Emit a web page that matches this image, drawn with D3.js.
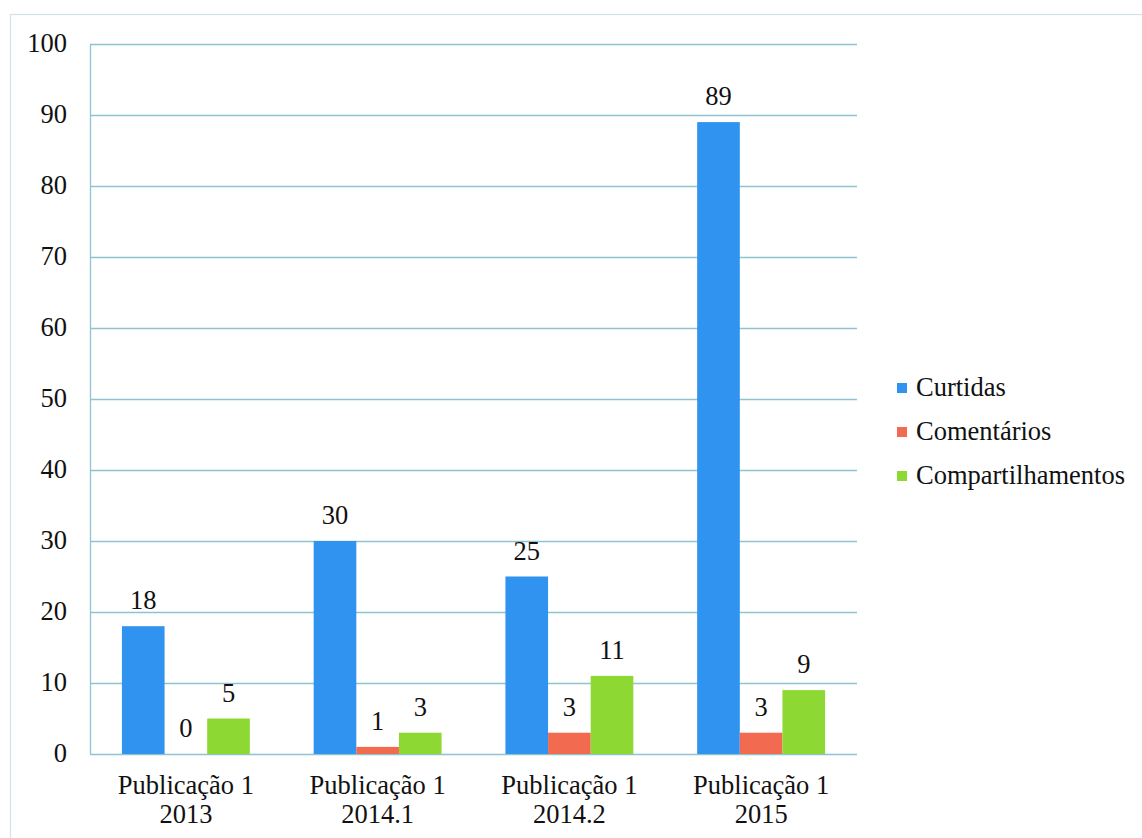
<!DOCTYPE html>
<html>
<head>
<meta charset="utf-8">
<script src="https://cdn.jsdelivr.net/npm/d3@7"></script>
<style>
  html, body { margin: 0; padding: 0; background: #fff; }
  svg { display: block; }
</style>
</head>
<body>
<svg id="chart" width="1142" height="838"></svg>
<script>
// Engagement per publication
const categories = [["Publicação 1", "2013"], ["Publicação 1", "2014.1"], ["Publicação 1", "2014.2"], ["Publicação 1", "2015"]];
const seriesNames = ["Curtidas", "Comentários", "Compartilhamentos"];
const curtidas = [18, 30, 25, 89];
const comentarios = [0, 1, 3, 3];
const compartilhamentos = [5, 3, 11, 9];
const yTicks = [0, 10, 20, 30, 40, 50, 60, 70, 80, 90, 100];
const colors = ["#2f93ef", "#f26b50", "#8ed834"];

const series = [curtidas, comentarios, compartilhamentos];

const svg = d3.select("#chart");
const m = { left: 90, right: 857, top: 44, bottom: 754 };
const fontSize = 26.5;
const serif = '"Liberation Serif", "Times New Roman", serif';

// outer frame
svg.append("rect")
  .attr("x", 10.5).attr("y", 14.5)
  .attr("width", 1160).attr("height", 860)
  .attr("fill", "none").attr("stroke", "#cfe2e8").attr("stroke-width", 1.2);

const x0 = d3.scaleBand().domain(d3.range(categories.length)).range([m.left, m.right]).paddingInner(0.333).paddingOuter(0.1665);
const x1 = d3.scaleBand().domain(d3.range(seriesNames.length)).range([0, x0.bandwidth()]);
const y = d3.scaleLinear().domain([0, 100]).range([m.bottom, m.top]);

// gridlines
svg.append("g").selectAll("line").data(yTicks).join("line")
  .attr("x1", m.left).attr("x2", m.right)
  .attr("y1", d => Math.round(y(d)) + 0.5).attr("y2", d => Math.round(y(d)) + 0.5)
  .attr("stroke", "#8dc4cd").attr("stroke-width", 1.3);

// y axis line
svg.append("line")
  .attr("x1", m.left + 0.5).attr("x2", m.left + 0.5)
  .attr("y1", m.top).attr("y2", m.bottom)
  .attr("stroke", "#8dc4cd").attr("stroke-width", 1.3);

// y tick labels
svg.append("g").selectAll("text").data(yTicks).join("text")
  .attr("x", 67).attr("y", d => y(d) - 1.5)
  .attr("dy", "0.35em")
  .attr("text-anchor", "end")
  .attr("font-size", fontSize).attr("fill", "#111")
  .style("font-family", serif)
  .text(d => d);

// bars
const groups = svg.append("g").selectAll("g").data(categories.map((c, i) => i)).join("g")
  .attr("transform", i => `translate(${x0(i)},0)`);

groups.selectAll("rect").data(i => series.map((s, k) => ({ k, v: s[i] }))).join("rect")
  .attr("x", d => x1(d.k))
  .attr("width", x1.bandwidth())
  .attr("y", d => y(d.v))
  .attr("height", d => y(0) - y(d.v))
  .attr("fill", d => colors[d.k]);

// value labels
groups.selectAll("text").data(i => series.map((s, k) => ({ k, v: s[i] }))).join("text")
  .attr("x", d => x1(d.k) + x1.bandwidth() / 2)
  .attr("y", d => y(d.v) - 17)
  .attr("text-anchor", "middle")
  .attr("font-size", fontSize).attr("fill", "#111")
  .style("font-family", serif)
  .text(d => d.v);

// category labels
const catLabels = svg.append("g").selectAll("text").data(categories.map((c, i) => ({ c, i }))).join("text")
  .attr("x", d => x0(d.i) + x0.bandwidth() / 2)
  .attr("text-anchor", "middle")
  .attr("font-size", fontSize).attr("fill", "#111")
  .style("font-family", serif);
catLabels.append("tspan").attr("x", d => x0(d.i) + x0.bandwidth() / 2).attr("y", 794).text(d => d.c[0]);
catLabels.append("tspan").attr("x", d => x0(d.i) + x0.bandwidth() / 2).attr("y", 823).text(d => d.c[1]);

// legend
const legend = svg.append("g").selectAll("g").data(seriesNames.map((n, k) => ({ n, k }))).join("g")
  .attr("transform", d => `translate(897, ${388 + d.k * 44})`);
legend.append("rect").attr("x", 0).attr("y", -5).attr("width", 10).attr("height", 10)
  .attr("fill", d => colors[d.k]);
legend.append("text").attr("x", 19).attr("y", -1).attr("dy", "0.35em")
  .attr("font-size", fontSize).attr("fill", "#111")
  .style("font-family", serif)
  .text(d => d.n);
</script>
</body>
</html>
